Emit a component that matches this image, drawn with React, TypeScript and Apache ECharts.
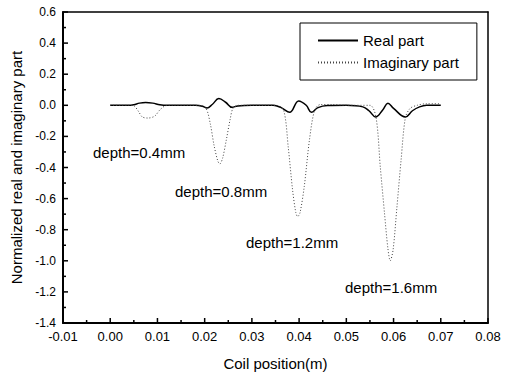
import React, { useEffect, useRef } from "react";
import * as echarts from "echarts";

const realPart: [number, number][] = [
  [0.0, 0.0], [0.004, 0.0], [0.005, 0.004], [0.0062, 0.014], [0.0075, 0.018], [0.009, 0.014],
  [0.0105, 0.004], [0.012, 0.0], [0.018, 0.0], [0.0195, -0.006], [0.0205, -0.017], [0.0216, 0.005],
  [0.023, 0.043], [0.0245, 0.018], [0.0258, -0.013], [0.027, -0.004], [0.03, 0.0], [0.0345, 0.0],
  [0.0362, -0.015], [0.038, -0.045], [0.0399, 0.028], [0.0415, 0.0], [0.0426, -0.045], [0.044, -0.015],
  [0.046, -0.002], [0.05, 0.0], [0.0535, -0.01], [0.0548, -0.035], [0.0562, -0.075], [0.0577, -0.03],
  [0.0588, 0.013], [0.06, -0.02], [0.0625, -0.075], [0.064, -0.035], [0.0655, -0.01], [0.067, 0.0], [0.07, 0.0],
];

const imagPart: [number, number][] = [
  [0.0, 0.0], [0.004, 0.0], [0.0051, -0.005], [0.006, -0.04], [0.0068, -0.075], [0.008, -0.082],
  [0.0094, -0.07], [0.0105, -0.03], [0.0117, -0.003], [0.013, 0.0], [0.019, 0.0], [0.0203, -0.02],
  [0.0212, -0.12], [0.022, -0.26], [0.0228, -0.36], [0.0232, -0.377], [0.0238, -0.34], [0.0246, -0.22],
  [0.0254, -0.09], [0.026, -0.02], [0.0272, 0.0], [0.035, 0.0], [0.0367, -0.03], [0.0377, -0.27],
  [0.0386, -0.54], [0.0393, -0.69], [0.0397, -0.716], [0.0402, -0.69], [0.0411, -0.52], [0.0422, -0.22],
  [0.0433, -0.03], [0.0445, 0.005], [0.047, 0.005], [0.05, 0.0], [0.055, 0.0], [0.0563, -0.08],
  [0.0572, -0.4], [0.0581, -0.7], [0.0588, -0.92], [0.0593, -1.0], [0.0599, -0.93], [0.0607, -0.66],
  [0.0616, -0.35], [0.0625, -0.08], [0.0635, -0.02], [0.065, 0.0], [0.067, 0.01], [0.07, 0.01],
];

const xMajorTicks = [-0.01, 0.0, 0.01, 0.02, 0.03, 0.04, 0.05, 0.06, 0.07, 0.08];
const xMinorTicks = [-0.005, 0.005, 0.015, 0.025, 0.035, 0.045, 0.055, 0.065, 0.075];
const yMajorTicks = [-1.4, -1.2, -1.0, -0.8, -0.6, -0.4, -0.2, 0.0, 0.2, 0.4, 0.6];
const yMinorTicks = [-1.3, -1.1, -0.9, -0.7, -0.5, -0.3, -0.1, 0.1, 0.3, 0.5];

const depthLabels = ["depth=0.4mm", "depth=0.8mm", "depth=1.2mm", "depth=1.6mm"];
const seriesNames = ["Real part", "Imaginary part"];

const FONT = "'Liberation Sans', Arial, sans-serif";
const X_MIN = -0.01;
const X_MAX = 0.08;
const Y_MIN = -1.4;
const Y_MAX = 0.6;

export default function App() {
  const ref = useRef<HTMLDivElement>(null);
  useEffect(() => {
    if (!ref.current) return;
    const chart = echarts.init(ref.current, undefined, { renderer: "svg" });
    const labelPos = [
      [93, 152],
      [175, 191],
      [246, 242],
      [345, 287],
    ];
    // tick items: [x, y, length, direction(0 = x-axis tick, 1 = y-axis tick)]
    const tickItems: number[][] = [
      ...xMajorTicks.map((v) => [v, Y_MIN, 5, 0]),
      ...xMinorTicks.map((v) => [v, Y_MIN, 3, 0]),
      ...yMajorTicks.map((v) => [X_MIN, v, 5, 1]),
      ...yMinorTicks.map((v) => [X_MIN, v, 3, 1]),
    ];
    const frameAxis = (pos: string) => ({
      type: "value",
      position: pos,
      axisLine: { show: true, onZero: false, lineStyle: { color: "#000", width: 1.5 } },
      axisTick: { show: false },
      axisLabel: { show: false },
      splitLine: { show: false },
    });
    chart.setOption({
      animation: false,
      backgroundColor: "#fff",
      grid: { left: 63, right: 18, top: 12, bottom: 51 },
      legend: {
        left: 300, top: 23, orient: "vertical",
        padding: [10, 18, 10, 17], itemGap: 7, itemWidth: 40, itemHeight: 15,
        borderColor: "#000", borderWidth: 1, backgroundColor: "#fff",
        itemStyle: { opacity: 0 },
        textStyle: { fontSize: 15, color: "#000", fontFamily: FONT },
        data: seriesNames,
      },
      xAxis: [
        {
          type: "value", min: X_MIN, max: X_MAX, interval: 0.01, position: "bottom",
          name: "Coil position(m)", nameLocation: "middle", nameGap: 33,
          nameTextStyle: { fontSize: 15, color: "#000", fontFamily: FONT },
          axisLine: { show: true, onZero: false, lineStyle: { color: "#000", width: 2 } },
          axisTick: { show: false },
          splitLine: { show: false },
          axisLabel: {
            fontSize: 13, color: "#000", margin: 7, fontFamily: FONT,
            formatter: (v: number) => v.toFixed(2),
          },
        },
        { ...frameAxis("top"), min: X_MIN, max: X_MAX, interval: 0.01 },
      ],
      yAxis: [
        {
          type: "value", min: Y_MIN, max: Y_MAX, interval: 0.2, position: "left",
          name: "Normalized real and imaginary part", nameLocation: "middle", nameGap: 36,
          nameTextStyle: { fontSize: 15, color: "#000", fontFamily: FONT },
          axisLine: { show: true, onZero: false, lineStyle: { color: "#000", width: 2 } },
          axisTick: { show: false },
          splitLine: { show: false },
          axisLabel: {
            fontSize: 12, color: "#000", margin: 7, fontFamily: FONT,
            formatter: (v: number) => v.toFixed(1),
          },
        },
        { ...frameAxis("right"), min: Y_MIN, max: Y_MAX, interval: 0.2 },
      ],
      series: [
        {
          name: seriesNames[0], type: "line", data: realPart, smooth: 0.4, symbol: "none",
          lineStyle: { color: "#000", width: 1.5, type: "solid" },
          itemStyle: { color: "#000" },
        },
        {
          name: seriesNames[1], type: "line", data: imagPart, smooth: 0.3, symbol: "none",
          lineStyle: { color: "#444", width: 1, type: [1, 2] },
          itemStyle: { color: "#444" },
        },
        {
          name: "ticks", type: "custom", silent: true, z: 5,
          xAxisIndex: 0, yAxisIndex: 0,
          encode: { x: 0, y: 1 },
          data: tickItems,
          renderItem: (params: any, api: any) => {
            const p = api.coord([api.value(0), api.value(1)]);
            const len = api.value(2);
            const dir = api.value(3);
            const shape = dir === 0
              ? { x1: p[0], y1: p[1], x2: p[0], y2: p[1] - len }
              : { x1: p[0], y1: p[1], x2: p[0] + len, y2: p[1] };
            return { type: "line", shape, style: { stroke: "#000", lineWidth: 1.5 } };
          },
        },
      ],
      graphic: depthLabels.map((t, i) => ({
        type: "text",
        x: labelPos[i][0],
        y: labelPos[i][1],
        style: {
          text: t, fill: "#000", fontSize: 15, fontFamily: FONT,
          verticalAlign: "middle", align: "left",
        },
      })),
    });
    return () => chart.dispose();
  }, []);
  return (
    <div
      ref={ref}
      style={{ position: "fixed", left: 0, top: 0, width: 506, height: 376 }}
    />
  );
}
